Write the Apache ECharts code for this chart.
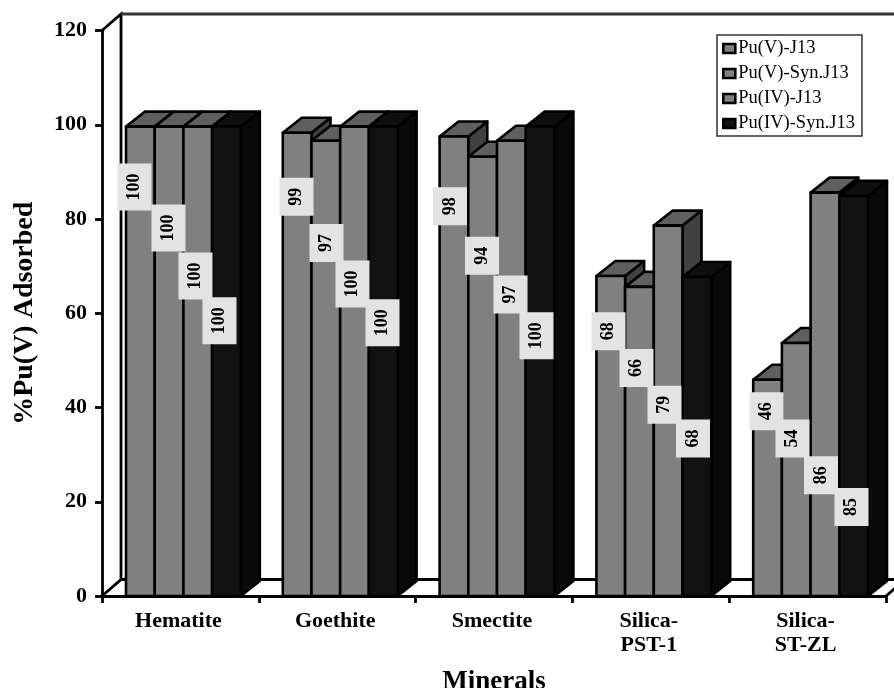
<!DOCTYPE html>
<html>
<head>
<meta charset="utf-8">
<style>html,body{margin:0;padding:0;background:#fff}#c{width:894px;height:688px}</style>
<script src="https://cdn.jsdelivr.net/npm/echarts@6/dist/echarts.min.js"></script>
</head>
<body>
<div id="c"></div>
<script>
const categories = ['Hematite', 'Goethite', 'Smectite', 'Silica-\nPST-1', 'Silica-\nST-ZL'];
const seriesNames = ['Pu(V)-J13', 'Pu(V)-Syn.J13', 'Pu(IV)-J13', 'Pu(IV)-Syn.J13'];
const puVJ13 = [99.6, 98.3, 97.5, 67.9, 45.9];
const puVSynJ13 = [99.6, 96.6, 93.2, 65.6, 53.7];
const puIVJ13 = [99.6, 99.6, 96.6, 78.6, 85.6];
const puIVSynJ13 = [99.6, 99.6, 99.6, 67.7, 84.9];
const labelsVJ13 = [100, 99, 98, 68, 46];
const labelsVSynJ13 = [100, 97, 94, 66, 54];
const labelsIVJ13 = [100, 100, 97, 79, 86];
const labelsIVSynJ13 = [100, 100, 100, 68, 85];

// Layout only: label box centres (axis value, px shift from the category centre)
const labelLevel = [
  [86.8, 84.7, 82.7, 56.2, 39.2],
  [78.1, 74.9, 72.2, 48.4, 33.4],
  [67.9, 66.2, 64.0, 40.6, 25.6],
  [58.4, 58.0, 55.2, 33.4, 18.9]
];
const labelShift = [
  [-45.9, -40.7, -44, -42.3, -41.1],
  [-11.9, -10.7, -12, -14.3, -15.1],
  [15.1, 15.3, 16.5, 13.7, 13.4],
  [39.1, 45.3, 42.5, 42.2, 43.9]
];

const SERIF = '"Liberation Serif","Times New Roman",serif';
const DEPTH_X = 19, DEPTH_Y = 15, BAR_W = 28.7, GROUP_SHIFT = -54.4;
const GRAY = {front: '#808080', top: '#5f5f5f', side: '#404040'};
const DARK = {front: '#121212', top: '#0f0f0f', side: '#090909'};
const palettes = [GRAY, GRAY, GRAY, DARK];
const allValues = [puVJ13, puVSynJ13, puIVJ13, puIVSynJ13];
const allLabels = [labelsVJ13, labelsVSynJ13, labelsIVJ13, labelsIVSynJ13];

function barRender(idx) {
  return function (params, api) {
    const c = api.value(0);
    const top = api.coord([c, api.value(1)]);
    const base = api.coord([c, 0]);
    const x0 = top[0] + GROUP_SHIFT + idx * BAR_W;
    const x1 = x0 + BAR_W;
    const y0 = top[1], y1 = base[1];
    const p = palettes[idx];
    const st = f => ({fill: f, stroke: '#000', lineWidth: 2.6, lineJoin: 'round'});
    return {type: 'group', children: [
      {type: 'polygon', shape: {points: [[x1, y0], [x1 + DEPTH_X, y0 - DEPTH_Y], [x1 + DEPTH_X, y1 - DEPTH_Y], [x1, y1]]}, style: st(p.side)},
      {type: 'polygon', shape: {points: [[x0, y0], [x0 + DEPTH_X, y0 - DEPTH_Y], [x1 + DEPTH_X, y0 - DEPTH_Y], [x1, y0]]}, style: st(p.top)},
      {type: 'rect', shape: {x: x0, y: y0, width: BAR_W, height: y1 - y0}, style: st(p.front)}
    ]};
  };
}

function wallRender(params, api) {
  const cs = params.coordSys;
  const dx = 19, dy = 16.5;
  const L = cs.x, R = cs.x + cs.width, T = cs.y, B = cs.y + cs.height;
  const line = (pts, color) => ({type: 'polyline', shape: {points: pts}, style: {fill: 'none', stroke: color, lineWidth: 2.8}});
  return {type: 'group', children: [
    line([[L, T], [L + dx, T - dy], [L + dx, B - dy], [L, B]], '#000'),
    line([[L + dx, T - dy], [R + dx, T - dy]], '#333'),
    line([[L + dx, B - dy], [R + dx, B - dy], [R, B]], '#000')
  ]};
}

function labelRender(params, api) {
  const s = api.value(0), c = api.value(1);
  const pt = api.coord([c, labelLevel[s][c]]);
  return {
    type: 'text',
    x: pt[0] + labelShift[s][c],
    y: pt[1],
    rotation: Math.PI / 2,
    style: {
      text: String(allLabels[s][c]),
      font: 'bold 18px ' + SERIF,
      fill: '#000',
      align: 'center',
      verticalAlign: 'middle',
      backgroundColor: '#e3e3e3',
      padding: [8, 10]
    }
  };
}

const barSeries = seriesNames.map((name, i) => ({
  name,
  type: 'custom',
  z: 3 + i,
  itemStyle: {color: palettes[i].front},
  renderItem: barRender(i),
  encode: {x: 0, y: 1},
  data: allValues[i].map((v, c) => [c, v])
}));

const labelCells = [];
allLabels.forEach((row, s) => row.forEach((v, c) => labelCells.push([s, c, labelLevel[s][c]])));

const chart = echarts.init(document.getElementById('c'), null, {renderer: 'canvas'});
chart.setOption({
  animation: false,
  backgroundColor: '#fff',
  grid: {left: 102, top: 30.5, width: 784, height: 565.5, outerBoundsMode: 'none'},
  legend: {
    orient: 'vertical',
    left: 717,
    top: 35,
    padding: [4, 7, 3, 5],
    itemGap: 6,
    itemWidth: 12,
    itemHeight: 9,
    icon: 'rect',
    backgroundColor: '#fff',
    borderColor: '#333',
    borderWidth: 1.5,
    selectedMode: false,
    textStyle: {fontFamily: SERIF, fontSize: 18.5, color: '#000', padding: [0, 0, 0, -2]},
    itemStyle: {borderColor: '#000', borderWidth: 2.6},
    data: seriesNames.map((n, i) => ({name: n, itemStyle: {color: palettes[i].front, borderColor: '#000', borderWidth: 2.6}}))
  },
  xAxis: {
    type: 'category',
    data: categories,
    name: 'Minerals',
    nameLocation: 'middle',
    nameGap: 73,
    nameTextStyle: {fontFamily: SERIF, fontWeight: 'bold', fontSize: 27, color: '#000'},
    axisLine: {lineStyle: {color: '#000', width: 2.8}},
    axisTick: {show: true, length: 7, lineStyle: {color: '#000', width: 2.8}},
    axisLabel: {fontFamily: SERIF, fontWeight: 'bold', fontSize: 22, color: '#000', margin: 13, lineHeight: 24, interval: 0, padding: [0, 4, 0, 0]},
    splitLine: {show: false}
  },
  yAxis: {
    type: 'value',
    min: 0,
    max: 120,
    interval: 20,
    name: '%Pu(V) Adsorbed',
    nameLocation: 'middle',
    nameGap: 63,
    nameTextStyle: {fontFamily: SERIF, fontWeight: 'bold', fontSize: 28, color: '#000'},
    axisLine: {show: true, lineStyle: {color: '#000', width: 2.8}},
    axisTick: {show: true, length: 7, lineStyle: {color: '#000', width: 2.8}},
    axisLabel: {fontFamily: SERIF, fontWeight: 'bold', fontSize: 22, color: '#000', margin: 15},
    splitLine: {show: false}
  },
  series: [
    {type: 'custom', name: 'walls', z: 1, silent: true, renderItem: wallRender, encode: {x: 0, y: 1}, data: [[0, 0]]},
    ...barSeries,
    {type: 'custom', name: 'labels', z: 10, silent: true, renderItem: labelRender, encode: {x: 1, y: 2}, data: labelCells}
  ]
});
</script>
</body>
</html>
